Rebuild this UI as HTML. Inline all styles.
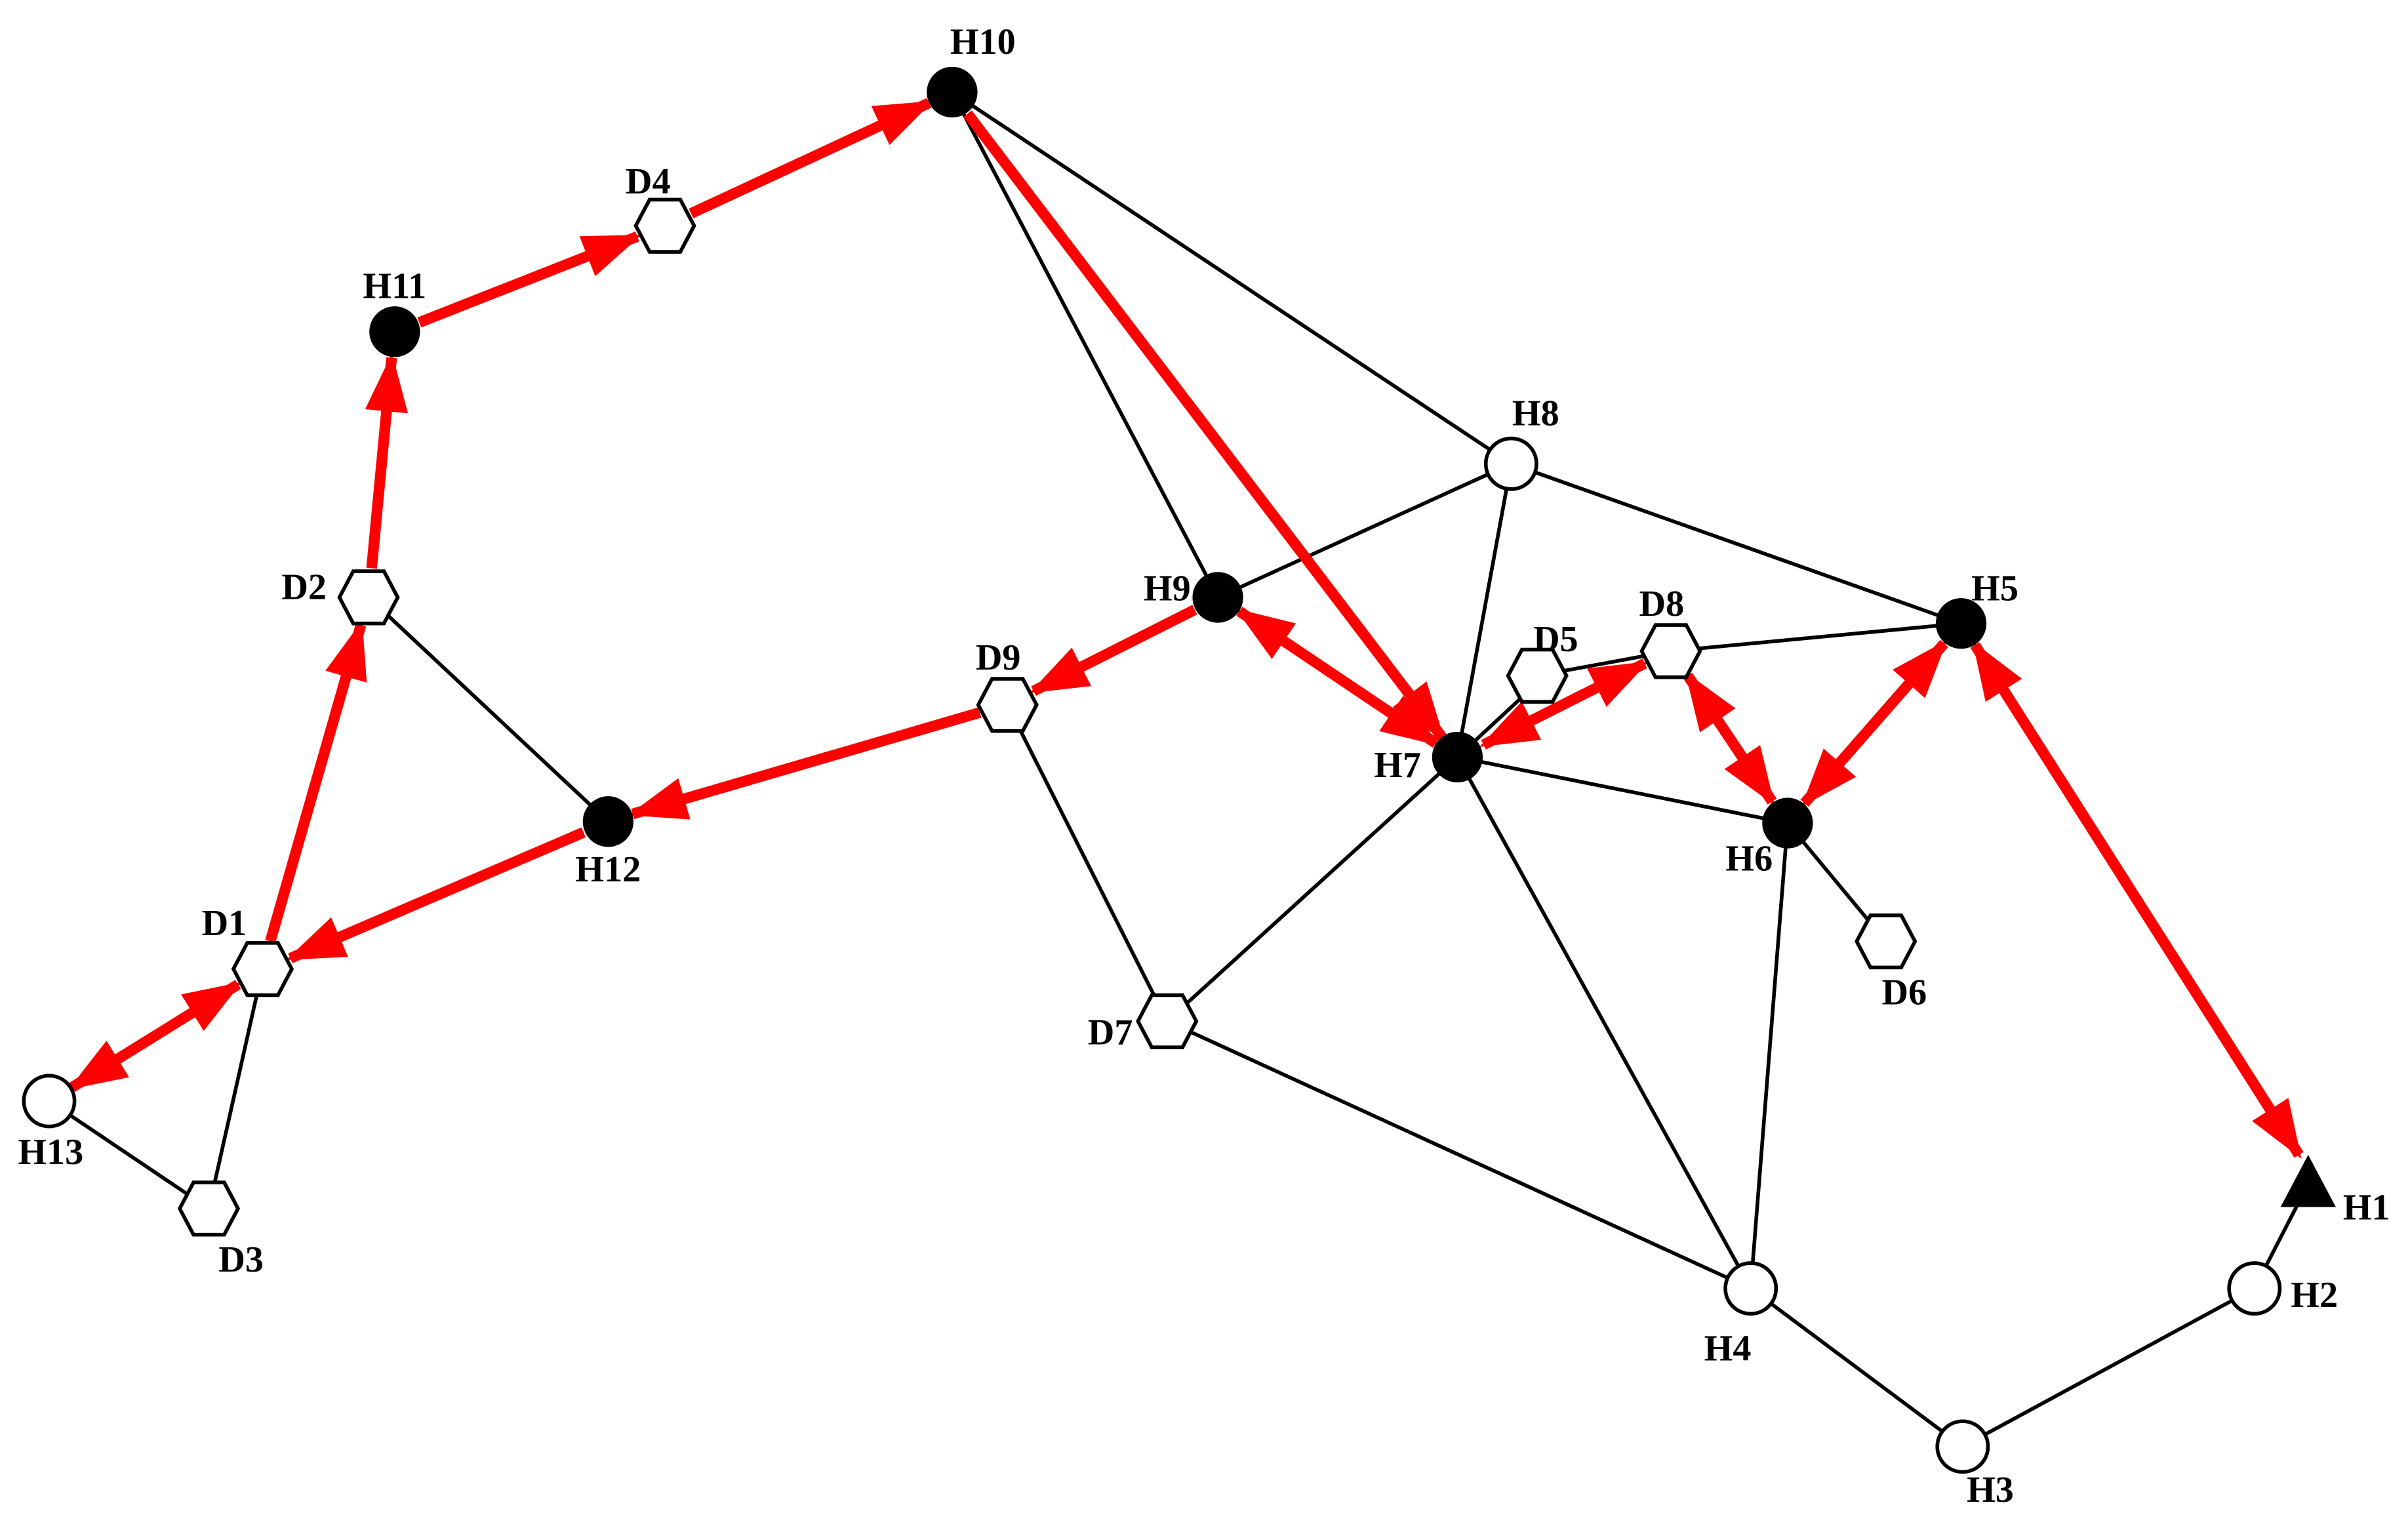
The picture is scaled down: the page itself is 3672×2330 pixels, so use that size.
<!DOCTYPE html>
<html><head><meta charset="utf-8"><style>
html,body{margin:0;padding:0;background:#fff;}
svg{display:block;}
text{font-family:"Liberation Serif",serif;font-size:24px;font-weight:bold;fill:#000;text-anchor:middle;}
</style></head><body>
<svg width="3672" height="2330" viewBox="0 0 1568 995" preserveAspectRatio="none" xmlns="http://www.w3.org/2000/svg">
<defs>
<marker id="a" markerUnits="userSpaceOnUse" markerWidth="38" markerHeight="28" refX="35" refY="14" orient="auto-start-reverse" viewBox="0 0 38 28">
<path d="M0,0 L38,14 L0,28 z" fill="#f00"/>
</marker>
</defs>
<g stroke="#000" stroke-width="2.4" fill="none">
<line x1="620" y1="60" x2="793" y2="389"/>
<line x1="620" y1="60" x2="984" y2="302"/>
<line x1="984" y1="302" x2="793" y2="389"/>
<line x1="984" y1="302" x2="949" y2="493"/>
<line x1="984" y1="302" x2="1277" y2="406"/>
<line x1="1088" y1="424" x2="1277" y2="406"/>
<line x1="990" y1="455" x2="949" y2="493"/>
<line x1="1001" y1="440" x2="1088" y2="424"/>
<line x1="949" y1="493" x2="1164" y2="536"/>
<line x1="1164" y1="536" x2="1228" y2="613"/>
<line x1="1164" y1="536" x2="1140" y2="839"/>
<line x1="949" y1="493" x2="760" y2="665"/>
<line x1="949" y1="493" x2="1140" y2="839"/>
<line x1="656" y1="459" x2="760" y2="665"/>
<line x1="760" y1="665" x2="1140" y2="839"/>
<line x1="240" y1="389" x2="396" y2="535"/>
<line x1="171" y1="631" x2="136" y2="787"/>
<line x1="32" y1="717" x2="136" y2="787"/>
<line x1="1140" y1="839" x2="1278" y2="942"/>
<line x1="1278" y1="942" x2="1468" y2="839"/>
<line x1="1468" y1="839" x2="1503" y2="771"/>
</g>
<g stroke="#f00" stroke-width="7" fill="none">
<line x1="450" y1="139" x2="605" y2="67" marker-end="url(#a)"/>
<line x1="273" y1="210" x2="415" y2="154" marker-end="url(#a)"/>
<line x1="242" y1="370" x2="255" y2="233" marker-end="url(#a)"/>
<line x1="176" y1="613" x2="235" y2="407" marker-end="url(#a)"/>
<line x1="380" y1="542" x2="189" y2="624" marker-end="url(#a)"/>
<line x1="638" y1="464" x2="412" y2="530" marker-end="url(#a)"/>
<line x1="778" y1="397" x2="673" y2="450" marker-end="url(#a)"/>
<line x1="630" y1="74" x2="939" y2="480" marker-end="url(#a)"/>
<line x1="807" y1="398" x2="935" y2="484" marker-start="url(#a)" marker-end="url(#a)"/>
<line x1="966" y1="485" x2="1071" y2="432" marker-start="url(#a)" marker-end="url(#a)"/>
<line x1="1099" y1="440" x2="1154" y2="522" marker-start="url(#a)" marker-end="url(#a)"/>
<line x1="1175" y1="523" x2="1266" y2="419" marker-start="url(#a)" marker-end="url(#a)"/>
<line x1="1286" y1="420" x2="1497" y2="752" marker-start="url(#a)" marker-end="url(#a)"/>
<line x1="155" y1="641" x2="47" y2="708" marker-start="url(#a)" marker-end="url(#a)"/>
</g>
<g fill="#000">
<circle cx="620" cy="60" r="16.5"/>
<circle cx="257" cy="216" r="16.5"/>
<circle cx="396" cy="535" r="16.5"/>
<circle cx="793" cy="389" r="16.5"/>
<circle cx="949" cy="493" r="16.5"/>
<circle cx="1277" cy="406" r="16.5"/>
<circle cx="1164" cy="536" r="16.5"/>
<path d="M1503,752 L1521,786 L1485,786 z"/>
</g>
<g fill="#fff" stroke="#000" stroke-width="2.4">
<circle cx="984" cy="302" r="16.5"/>
<circle cx="32" cy="717" r="16.5"/>
<circle cx="1140" cy="839" r="16.5"/>
<circle cx="1278" cy="942" r="16.5"/>
<circle cx="1468" cy="839" r="16.5"/>
</g>
<g fill="#fff" stroke="#000" stroke-width="2.4">
<path transform="translate(433,147)" d="M-19,0 L-10,-17 L10,-17 L19,0 L10,17 L-10,17 z"/>
<path transform="translate(240,389)" d="M-19,0 L-10,-17 L10,-17 L19,0 L10,17 L-10,17 z"/>
<path transform="translate(656,459)" d="M-19,0 L-10,-17 L10,-17 L19,0 L10,17 L-10,17 z"/>
<path transform="translate(1001,440)" d="M-19,0 L-10,-17 L10,-17 L19,0 L10,17 L-10,17 z"/>
<path transform="translate(1088,424)" d="M-19,0 L-10,-17 L10,-17 L19,0 L10,17 L-10,17 z"/>
<path transform="translate(1228,613)" d="M-19,0 L-10,-17 L10,-17 L19,0 L10,17 L-10,17 z"/>
<path transform="translate(760,665)" d="M-19,0 L-10,-17 L10,-17 L19,0 L10,17 L-10,17 z"/>
<path transform="translate(171,631)" d="M-19,0 L-10,-17 L10,-17 L19,0 L10,17 L-10,17 z"/>
<path transform="translate(136,787)" d="M-19,0 L-10,-17 L10,-17 L19,0 L10,17 L-10,17 z"/>
</g>
<g>
<text x="640" y="35">H10</text>
<text x="257" y="194">H11</text>
<text x="422" y="126">D4</text>
<text x="198" y="390">D2</text>
<text x="396" y="574">H12</text>
<text x="650" y="436">D9</text>
<text x="760" y="391">H9</text>
<text x="1000" y="277">H8</text>
<text x="1299" y="391">H5</text>
<text x="1082" y="401">D8</text>
<text x="1013" y="424">D5</text>
<text x="910" y="506">H7</text>
<text x="1139" y="567">H6</text>
<text x="1240" y="654">D6</text>
<text x="723" y="680">D7</text>
<text x="146" y="609">D1</text>
<text x="33" y="758">H13</text>
<text x="157" y="828">D3</text>
<text x="1125" y="886">H4</text>
<text x="1296" y="978">H3</text>
<text x="1507" y="851">H2</text>
<text x="1541" y="794">H1</text>
</g>
</svg>
</body></html>
